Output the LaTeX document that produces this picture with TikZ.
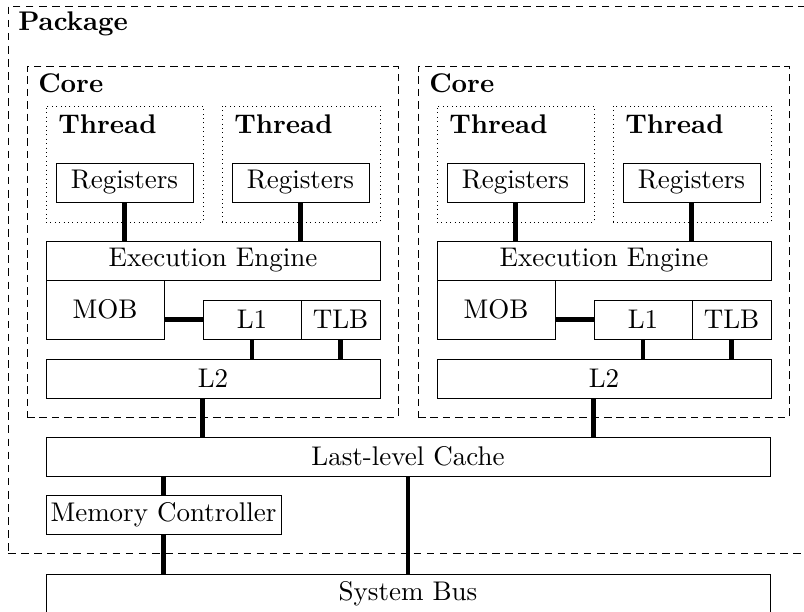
\documentclass[tikz,border=0pt]{standalone}
\usepackage{fontspec}
\setmainfont{lmroman10-regular.otf}[BoldFont=lmroman10-bold.otf]

\tikzset{
  txt/.style={font=\fontsize{19.6}{23}\selectfont},
  lbl/.style={font=\fontsize{19.6}{23}\selectfont\bfseries, inner sep=0pt, anchor=base west},
  unit/.style={draw, line width=0.6pt, inner sep=0pt, txt},
  corebox/.style={draw, line width=0.6pt, inner sep=0pt, dash pattern=on 5.5pt off 3.5pt},
  threadbox/.style={draw, line width=0.6pt, inner sep=0pt, dash pattern=on 0.7pt off 2.5pt},
  pkgbox/.style={draw, line width=0.6pt, inner sep=0pt, dash pattern=on 5.5pt off 4pt},
  bus/.style={line width=3.2pt},
}

% box from corner (#3,#4) to corner (#5,#6), style #1, name #2, text #7
\newcommand\placebox[7]{%
  \node[#1, minimum width={(#5-#3)*0.02551cm}, minimum height={(#6-#4)*0.02551cm}]
    (#2) at ({(#3+#5)/2},{(#4+#6)/2}) {#7};%
}

% one core: #1 = name prefix, #2 = horizontal offset
\newcommand\drawcoreblock[2]{%
  \begin{scope}[shift={(#2,0)}]
    \placebox{corebox}{#1core}{27}{66}{398}{417}{}
    \node[lbl] (#1corelbl) at (38,93) {Core};
    \placebox{threadbox}{#1tha}{46}{106}{203}{222}{}
    \placebox{threadbox}{#1thb}{222}{106}{380}{222}{}
    \node[lbl] (#1thalbl) at (58,134) {Thread};
    \node[lbl] (#1thblbl) at (234,134) {Thread};
    \placebox{unit}{#1rega}{56}{163}{193}{202}{Registers}
    \placebox{unit}{#1regb}{232}{163}{369}{202}{Registers}
    \placebox{unit}{#1ee}{46}{241}{380}{280}{Execution Engine}
    \placebox{unit}{#1mob}{46}{280}{164}{339}{MOB}
    \placebox{unit}{#1lone}{203}{300}{301}{339}{L1}
    \placebox{unit}{#1tlb}{301}{300}{380}{339}{TLB}
    \placebox{unit}{#1ltwo}{46}{359}{380}{398}{L2}
  \end{scope}
  \draw[bus] (#1rega.south) -- (#1rega.south |- #1ee.north);
  \draw[bus] (#1regb.south) -- (#1regb.south |- #1ee.north);
  \draw[bus] (#1lone.west) -- (#1lone.west -| #1mob.east);
  \draw[bus] (#1lone.south) -- (#1lone.south |- #1ltwo.north);
  \draw[bus] (#1tlb.south) -- (#1tlb.south |- #1ltwo.north);
  \draw[bus] (#1lone.south west |- #1ltwo.south) -- (#1lone.south west |- llc.north);
}

\begin{document}
\begin{tikzpicture}[x=0.02551cm, y=-0.02551cm]
  \useasboundingbox (0,0) rectangle (804,612);
  \clip (0,0) rectangle (804,612);

  % package outline and label
  \placebox{pkgbox}{pkg}{8}{6}{840}{553}{}
  \node[lbl] (pkglbl) at (18,31) {Package};

  % shared parts
  \placebox{unit}{llc}{46}{437}{770}{476}{Last-level Cache}
  \placebox{unit}{mc}{46}{495}{281}{534}{Memory Controller}
  \placebox{unit}{sysbus}{46}{574}{770}{614}{System Bus}

  % the two cores
  \drawcoreblock{a}{0}
  \drawcoreblock{b}{391}

  % links below the last-level cache
  \draw[bus] (mc.north) -- (mc.north |- llc.south);
  \draw[bus] (mc.south) -- (mc.south |- sysbus.north);
  \draw[bus] (llc.south) -- (sysbus.north);
\end{tikzpicture}
\end{document}
